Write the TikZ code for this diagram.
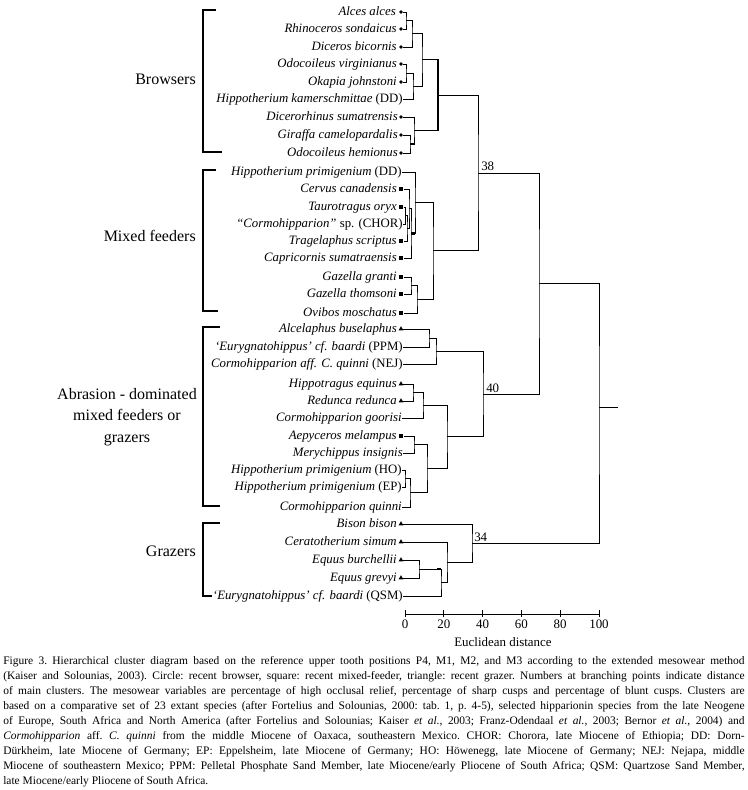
\documentclass[tikz,border=0pt]{standalone}
\usepackage{amsmath}
\usepackage{fontspec}
\setmainfont{Liberation Serif}
\usepackage{tikz}
\usetikzlibrary{shapes.geometric}

\begin{document}
\begin{tikzpicture}[x=0.75pt,y=0.75pt,yscale=-1,xscale=1,
  spname/.style={anchor=east, inner sep=0pt, text height=6.5pt, text depth=2pt, font=\fontsize{9.6}{11}\selectfont},
  grp/.style={inner sep=0pt, font=\fontsize{12}{16}\selectfont},
  brow/.style={circle, fill=black, inner sep=0pt, minimum size=2.8pt},
  mixf/.style={rectangle, fill=black, inner sep=0pt, minimum size=3.4pt},
  graz/.style={regular polygon, regular polygon sides=3, fill=black, inner sep=0pt, minimum size=4.2pt},
  br/.style={line width=0.75pt},
  thk/.style={line width=1.8pt},
  brk/.style={line width=2.2pt},
  axlab/.style={inner sep=0pt, font=\fontsize{9.7}{11}\selectfont}
]
\useasboundingbox (0,0) rectangle (748,790);

%Group brackets
\draw[brk] (216,10) -- (203,10) -- (203,152) -- (222,152);
\draw[brk] (216,170) -- (203,170) -- (203,311) -- (218,311);
\draw[brk] (220,327) -- (203,327) -- (203,506) -- (220,506);
\draw[brk] (220,523) -- (203,523) -- (203,596) -- (212,596);
% Group labels
\node[grp, anchor=east] (gbrow) at (196,79) {Browsers};
\node[grp, anchor=east] (gmix) at (196,236) {Mixed feeders};
\node[grp, align=center] (gabr) at (127,417) {Abrasion - dominated\\mixed feeders or\\grazers};
\node[grp, anchor=east] (ggraz) at (196,551) {Grazers};

% Leaves: browsers
\node[spname] (alces) at (396,12) {\textit{Alces alces}};
\node[brow] (m-alces) at (401,12) {};
\node[spname] (rhino) at (397,29) {\textit{Rhinoceros sondaicus}};
\node[brow] (m-rhino) at (401,29) {};
\node[spname] (dicer) at (397,47) {\textit{Diceros bicornis}};
\node[brow] (m-dicer) at (401,47) {};
\node[spname] (odovi) at (397,64) {\textit{Odocoileus virginianus}};
\node[brow] (m-odovi) at (401,64) {};
\node[spname] (okapi) at (397,82) {\textit{Okapia johnstoni}};
\node[brow] (m-okapi) at (401,82) {};
\node[spname] (hikam) at (403,99) {\textit{Hippotherium kamerschmittae} (DD)};
\node[spname] (dicsu) at (398,117) {\textit{Dicerorhinus sumatrensis}};
\node[brow] (m-dicsu) at (401,117) {};
\node[spname] (giraf) at (398,135) {\textit{Giraffa camelopardalis}};
\node[brow] (m-giraf) at (401,135) {};
\node[spname] (odohe) at (398,153) {\textit{Odocoileus hemionus}};
\node[brow] (m-odohe) at (401,153) {};

% Leaves: mixed feeders
\node[spname] (hipdd) at (402,172) {\textit{Hippotherium primigenium} (DD)};
\node[spname] (cerca) at (397,189) {\textit{Cervus canadensis}};
\node[mixf] (m-cerca) at (401,189) {};
\node[spname] (tauor) at (397,207) {\textit{Taurotragus oryx}};
\node[mixf] (m-tauor) at (401,207) {};
\node[spname] (corch) at (403,224) {\textit{“Cormohipparion”} sp. (CHOR)};
\node[spname] (trasc) at (397,241) {\textit{Tragelaphus scriptus}};
\node[mixf] (m-trasc) at (401,241) {};
\node[spname] (capsu) at (397,258) {\textit{Capricornis sumatraensis}};
\node[mixf] (m-capsu) at (401,258) {};
\node[spname] (gazgr) at (397,277) {\textit{Gazella granti}};
\node[mixf] (m-gazgr) at (401,277) {};
\node[spname] (gazth) at (397,294) {\textit{Gazella thomsoni}};
\node[mixf] (m-gazth) at (401,294) {};
\node[spname] (ovimo) at (397,313) {\textit{Ovibos moschatus}};
\node[mixf] (m-ovimo) at (401,313) {};

% Leaves: abrasion-dominated
\node[spname] (alcbu) at (397,329) {\textit{Alcelaphus buselaphus}};
\node[graz] (m-alcbu) at (401,329) {};
\node[spname] (eurpp) at (403,347) {\textit{‘Eurygnatohippus’ cf. baardi} (PPM)};
\node[spname] (corne) at (403,364) {\textit{Cormohipparion aff. C. quinni} (NEJ)};
\node[spname] (hipeq) at (397,384) {\textit{Hippotragus equinus}};
\node[graz] (m-hipeq) at (401,384) {};
\node[spname] (redre) at (397,401) {\textit{Redunca redunca}};
\node[graz] (m-redre) at (401,401) {};
\node[spname] (corgo) at (402,418) {\textit{Cormohipparion goorisi}};
\node[spname] (aepme) at (397,436) {\textit{Aepyceros melampus}};
\node[mixf] (m-aepme) at (401,436) {};
\node[spname] (merin) at (403,453) {\textit{Merychippus insignis}};
\node[spname] (hipho) at (402,470) {\textit{Hippotherium primigenium} (HO)};
\node[spname] (hipep) at (402,487) {\textit{Hippotherium primigenium} (EP)};
\node[spname] (corqu) at (402,507) {\textit{Cormohipparion quinni}};

% Leaves: grazers
\node[spname] (bisbi) at (397,524) {\textit{Bison bison}};
\node[graz] (m-bisbi) at (401,524) {};
\node[spname] (cersi) at (397,542) {\textit{Ceratotherium simum}};
\node[graz] (m-cersi) at (401,542) {};
\node[spname] (equbu) at (397,560) {\textit{Equus burchellii}};
\node[graz] (m-equbu) at (401,560) {};
\node[spname] (equgr) at (397,578) {\textit{Equus grevyi}};
\node[graz] (m-equgr) at (401,578) {};
\node[spname] (eurqs) at (403,596) {\textit{‘Eurygnatohippus’ cf. baardi} (QSM)};

% Branching points
\coordinate (b1) at (406,20.5);
\coordinate (b2) at (412,33.75);
\coordinate (b3) at (406,73);
\coordinate (b4) at (413,86);
\coordinate (b5) at (422,59.9);
\coordinate (b6) at (410,144);
\coordinate (b7) at (414,130.5);
\coordinate (b8) at (438,95.2);
\coordinate (mx1) at (405.5,215.5);
\coordinate (mx2) at (407,228.25);
\coordinate (mx3) at (409,208.6);
\coordinate (mx4) at (411,233.3);
\coordinate (mx5) at (415,202.6);
\coordinate (mx6) at (411,285.5);
\coordinate (mx7) at (417,299.25);
\coordinate (mx8) at (433,250.9);
\coordinate (a1) at (429,338);
\coordinate (a2) at (436,351);
\coordinate (a3) at (413,392.5);
\coordinate (a4) at (423,405.25);
\coordinate (a5) at (414,444.5);
\coordinate (a6) at (405,478.5);
\coordinate (a7) at (410,492.75);
\coordinate (a8) at (427,468.6);
\coordinate (a9) at (447,436.9);
\coordinate (g1) at (419,569);
\coordinate (g2) at (441,582.5);
\coordinate (g3) at (447,562.25);
\coordinate (c38) at (478,173);
\coordinate (c40) at (483,394);
\coordinate (c34) at (472,543);
\coordinate (c69) at (539,283.5);
\coordinate (root) at (599,407);
\coordinate (stub) at (618,407);

%Dendrogram: browsers
\draw[br] (m-alces) -| (b1) |- (m-rhino);
\draw[br] (b1) -| (b2) |- (m-dicer);
\draw[br] (m-odovi) -| (b3) |- (m-okapi);
\draw[br] (b3) -| (b4) |- (hikam);
\draw[br] (b2) -| (b5) |- (b4);
\draw[br] (m-giraf) -| (b6) |- (m-odohe);
\draw[br] (m-dicsu) -| (b7) |- (b6);
\draw[thk] (b6) -- (b6 -| b7);
\draw[br] (b5) -| (b8) |- (b7);
\draw[thk] (b5 -| b8) -- (b7 -| b8);
%Dendrogram: mixed feeders
\draw[br] (m-tauor) -| (mx1) |- (corch);
\draw[br] (mx1) -| (mx2) |- (m-trasc);
\draw[br] (m-cerca) -| (mx3) |- (mx2);
\draw[br] (mx3) -| (mx4) |- (m-capsu);
\draw[thk] (mx4) -- (mx4 -| mx5);
\draw[br] (hipdd) -| (mx5) |- (mx4);
\draw[br] (m-gazgr) -| (mx6) |- (m-gazth);
\draw[br] (mx6) -| (mx7) |- (m-ovimo);
\draw[br] (mx5) -| (mx8) |- (mx7);
%Dendrogram: abrasion-dominated
\draw[br] (m-alcbu) -| (a1) |- (eurpp);
\draw[br] (a1) -| (a2) |- (corne);
\draw[br] (m-hipeq) -| (a3) |- (m-redre);
\draw[br] (a3) -| (a4) |- (corgo);
\draw[br] (m-aepme) -| (a5) |- (merin);
\draw[br] (hipho) -| (a6) |- (hipep);
\draw[br] (a6) -| (a7) |- (corqu);
\draw[br] (a5) -| (a8) |- (a7);
\draw[br] (a4) -| (a9) |- (a8);
%Dendrogram: grazers
\draw[br] (m-equbu) -| (g1) |- (m-equgr);
\draw[thk] (g1 -| g2) ++(-4,0) -- (g1 -| g2);
\draw[br] (g1) -| (g2) |- (eurqs);
\draw[br] (m-cersi) -| (g3) |- (g2);
%Main clusters
\draw[br] (b8) -| (c38) |- (mx8);
\draw[br] (a2) -| (c40) |- (a9);
\draw[br] (m-bisbi) -| (c34) |- (g3);
\draw[br] (c38) -| (c69) |- (c40);
\draw[br] (c69) -| (root) |- (c34);
\draw[br] (root) -- (stub);
% Text Node
\node[axlab, anchor=west] (d38) at (481,166) {38};
\node[axlab, anchor=west] (d40) at (486,388) {40};
\node[axlab, anchor=west] (d34) at (474,537) {34};

%Axis
\draw[br] (405,614) -- (599,614);
\draw[br] (405,610) -- (405,617);
\draw[br] (443.8,610) -- (443.8,617);
\draw[br] (482.6,610) -- (482.6,617);
\draw[br] (521.4,610) -- (521.4,617);
\draw[br] (560.2,610) -- (560.2,617);
\draw[br] (599,610) -- (599,617);
\node[axlab] (x0) at (405,624) {0};
\node[axlab] (x20) at (443.8,624) {20};
\node[axlab] (x40) at (482.6,624) {40};
\node[axlab] (x60) at (521.4,624) {60};
\node[axlab] (x80) at (560.2,624) {80};
\node[axlab] (x100) at (599,624) {100};
\node[axlab] (xtitle) at (503,642) {Euclidean distance};

% Caption
\node[anchor=north west, inner sep=0pt, text width=556pt, align=justify, font=\fontsize{8.6}{11.25}\selectfont] (capt) at (3,656) {\frenchspacing\tolerance=10000\hbadness=10000 Figure 3. Hierarchical cluster diagram based on the reference upper tooth positions P4, M1, M2, and M3 according to the extended mesowear method\linebreak
(Kaiser and Solounias, 2003). Circle: recent browser, square: recent mixed-feeder, triangle: recent grazer. Numbers at branching points indicate distance\linebreak
of main clusters. The mesowear variables are percentage of high occlusal relief, percentage of sharp cusps and percentage of blunt cusps. Clusters are\linebreak
based on a comparative set of 23 extant species (after Fortelius and Solounias, 2000: tab. 1, p. 4-5), selected hipparionin species from the late Neogene\linebreak
of Europe, South Africa and North America (after Fortelius and Solounias; Kaiser \textit{et al.}, 2003; Franz-Odendaal \textit{et al.}, 2003; Bernor \textit{et al.}, 2004) and\linebreak
\textit{Cormohipparion} aff. \textit{C. quinni} from the middle Miocene of Oaxaca, southeastern Mexico. CHOR: Chorora, late Miocene of Ethiopia; DD: Dorn-\linebreak
Dürkheim, late Miocene of Germany; EP: Eppelsheim, late Miocene of Germany; HO: Höwenegg, late Miocene of Germany; NEJ: Nejapa, middle\linebreak
Miocene of southeastern Mexico; PPM: Pelletal Phosphate Sand Member, late Miocene/early Pliocene of South Africa; QSM: Quartzose Sand Member,\linebreak
late Miocene/early Pliocene of South Africa.};
\end{tikzpicture}
\end{document}
